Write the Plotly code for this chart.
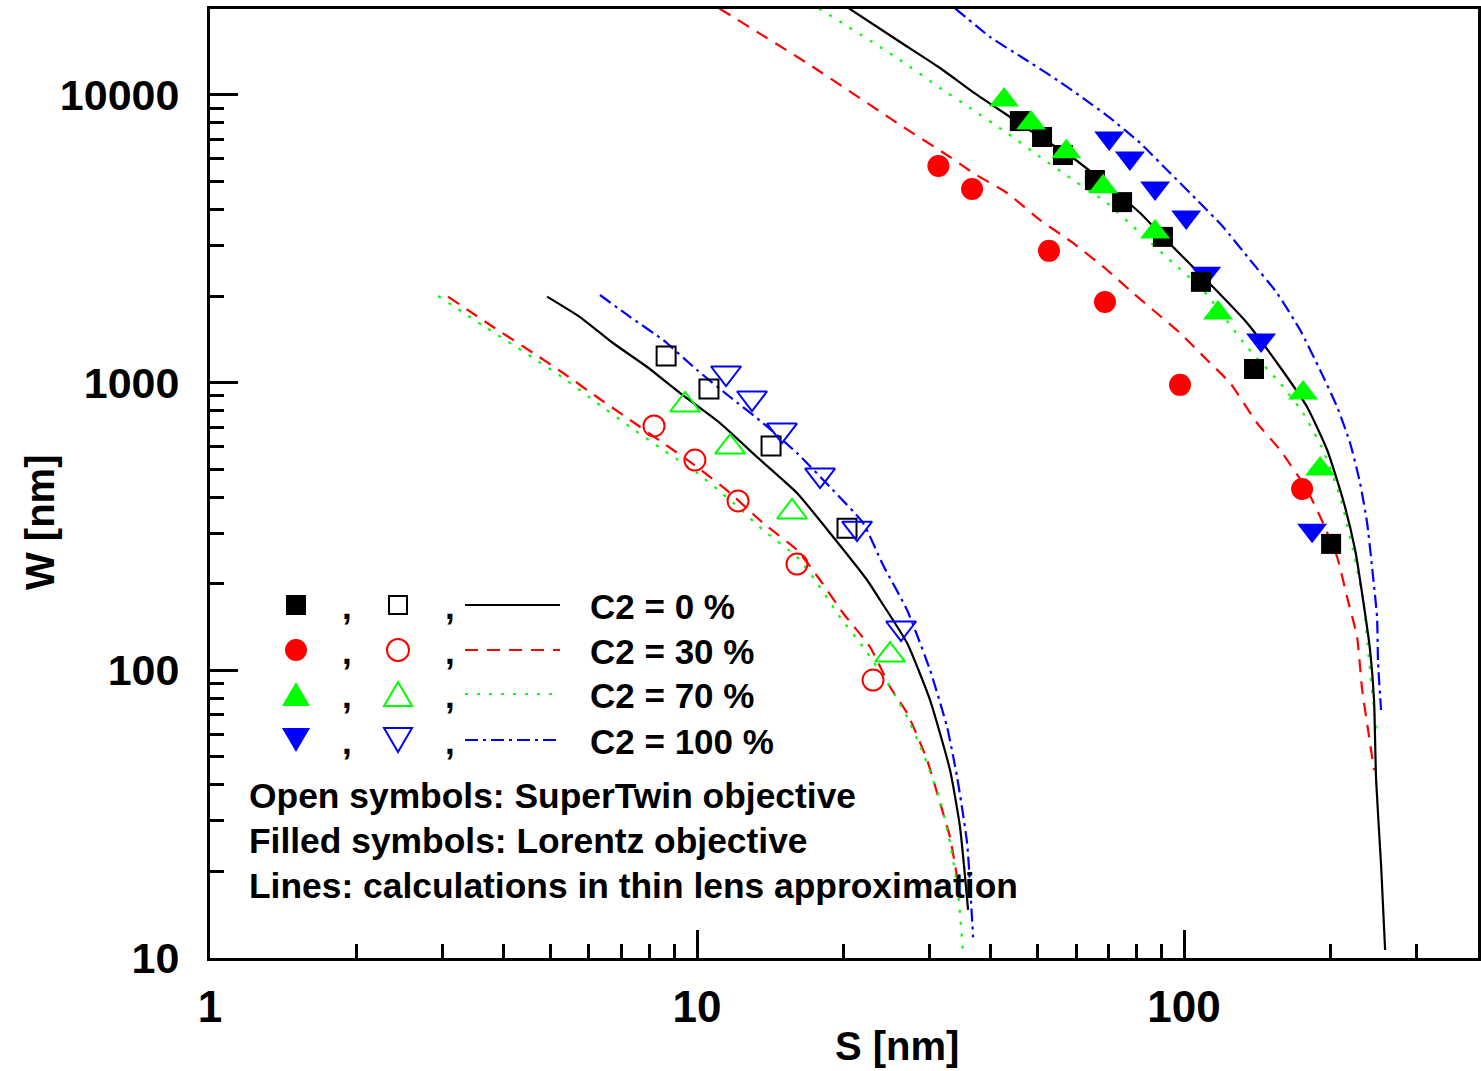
import plotly.graph_objects as go

# ---------------- data (S [nm], W [nm]) ----------------
# Lorentz objective: filled symbols
S_lor_c0 = [46.0, 51.1, 56.4, 65.6, 74.6, 90.5, 108.3, 139.2, 200.4]
W_lor_c0 = [8110, 7140, 6180, 5060, 4240, 3210, 2240, 1115, 275]
S_lor_c30 = [31.3, 36.7, 52.8, 68.8, 98.1, 174.7]
W_lor_c30 = [5660, 4710, 2870, 1905, 982, 427]
S_lor_c70 = [42.7, 48.5, 57.3, 68.2, 87.2, 117.4, 175.5, 190.2]
W_lor_c70 = [9600, 7980, 6340, 4790, 3340, 1746, 920, 501]
S_lor_c100 = [70.2, 77.4, 87.2, 101.0, 111.0, 143.9, 183.2]
W_lor_c100 = [7080, 6040, 4750, 3760, 2400, 1406, 307]

# SuperTwin objective: open symbols
S_st_c0 = [8.64, 10.58, 14.19, 20.32]
W_st_c0 = [1237, 950, 602, 312]
S_st_c30 = [8.16, 9.90, 12.14, 16.04, 22.98]
W_st_c30 = [707, 538, 388, 234, 92.5]
S_st_c70 = [9.45, 11.69, 15.67, 24.9]
W_st_c70 = [836, 597, 355, 113]
S_st_c100 = [11.47, 12.97, 14.94, 17.89, 21.31, 26.24]
W_st_c100 = [1080, 884, 684, 477, 312, 140.3]

# thin lens calculations, Lorentz objective
S_calc_lor_c0 = [20.5, 26.12, 31.55, 36.88, 43.31, 50.62, 59.17, 69.50, 81.22, 94.93, 114.7, 134.7,
                 157.4, 178.9, 196.7, 212.1, 224.5, 233.1, 240.9, 245.5, 247.9, 253.8, 258.7]
W_calc_lor_c0 = [20000, 15270, 12400, 10230, 8514, 7140, 6036, 4863, 3886, 2960, 2149, 1612,
                 1133, 822.8, 583.2, 390.8, 261.9, 175.5, 117.7, 78.8, 41.6, 21.05, 10.66]
S_calc_lor_c30 = [11.1, 17.06, 26.12, 33.07, 36.88, 43.31, 50.62, 59.17, 69.50, 78.57, 98.1, 111.5,
                  124.3, 141.2, 157.4, 178.9, 192.9, 206.2, 216.1, 226.6, 232.1, 238.7, 245.5]
W_calc_lor_c30 = [20000, 12700, 7860, 6085, 5352, 4560, 3674, 3057, 2463, 2048, 1487, 1198,
                  996.7, 723.6, 583.2, 423.3, 325.1, 247.7, 179.8, 130.5, 85.4, 62.0, 45.0]
S_calc_lor_c70 = [17.8, 26.12, 31.55, 36.36, 43.31, 50.62, 59.17, 69.50, 81.22, 94.93, 109.4, 134.7,
                  157.4, 175.5, 192.9, 209.1, 222.3, 233.1, 238.7, 244.3, 247.9]
W_calc_lor_c70 = [20000, 13220, 10570, 9006, 7373, 6085, 5060, 4210, 3311, 2604, 2098, 1329,
                  996.7, 784.1, 583.2, 400.3, 261.9, 175.5, 117.7, 78.8, 62.0]
S_calc_lor_c100 = [33.87, 39.96, 46.7, 54.85, 62.02, 70.47, 81.22, 93.6, 106.3, 120.3, 136.6, 155.2,
                   173.1, 190.2, 206.2, 219.2, 229.8, 237.6, 243.2, 249.0, 250.2, 253.8]
W_calc_lor_c100 = [20000, 15900, 13440, 11270, 9754, 8313, 6805, 5352, 4312, 3474, 2668, 2048,
                   1523, 1106, 822.8, 616.8, 447.7, 325.1, 228.6, 153.2, 106.0, 72.8]

# thin lens calculations, SuperTwin objective
S_calc_st_c0 = [4.92, 5.75, 6.72, 7.90, 9.23, 11.15, 13.28, 16.04, 18.75, 22.34, 23.76, 26.99,
                30.09, 33.07, 34.67, 36.02]
W_calc_st_c0 = [1990, 1690, 1373, 1133, 920.0, 723.6, 551.2, 413.3, 300.1, 206.0, 175.5, 124.4,
                78.8, 45.0, 28.53, 14.69]
S_calc_st_c30 = [3.08, 3.76, 4.61, 5.31, 6.23, 7.29, 8.52, 10.0, 11.69, 13.66, 16.04, 17.89, 19.94,
                 22.66, 24.91, 26.99, 29.67, 31.55, 33.07, 34.19]
W_calc_st_c30 = [1990, 1586, 1267, 1080, 891.2, 741.3, 616.8, 508.8, 413.3, 325.1, 261.9, 206.0, 158.2,
                 120.5, 87.5, 71.1, 48.8, 34.6, 26.3, 19.1]
S_calc_st_c70 = [2.94, 3.67, 4.61, 5.31, 6.23, 7.29, 8.52, 10.0, 11.69, 13.66, 16.04, 17.47, 19.66,
                 21.92, 24.91, 26.99, 29.11, 31.55, 33.07, 34.35, 35.17]
W_calc_st_c70 = [2000, 1561, 1218, 1038, 849.4, 701.0, 583.2, 485.2, 390.8, 307.4, 247.7, 206.0, 153.2,
                 120.5, 87.5, 68.8, 51.6, 35.4, 25.1, 16.8, 10.4]
S_calc_st_c100 = [6.32, 7.29, 8.52, 10.0, 11.69, 13.66, 16.04, 18.75, 21.92, 24.09, 26.99, 30.09,
                  32.61, 34.19, 35.85, 36.88]
W_calc_st_c100 = [2016, 1690, 1406, 1106, 891.2, 723.6, 569.1, 433.6, 325.1, 232.3, 162.0, 100.2,
                  63.5, 42.6, 25.1, 11.8]

x_tickvals = [1, 10, 100]
x_ticktext = ["1", "10", "100"]
y_tickvals = [10, 100, 1000, 10000]
y_ticktext = ["10", "100", "1000", "10000"]
legend_labels = ["C2 = 0 %", "C2 = 30 %", "C2 = 70 %", "C2 = 100 %"]
note_lines = ["Open symbols: SuperTwin objective",
              "Filled symbols: Lorentz objective",
              "Lines: calculations in thin lens approximation"]

# ---------------- styles / geometry ----------------
BLACK, RED, GREEN, BLUE = "#000000", "#FF0000", "#00FF00", "#0000FF"
DASH_C0 = "solid"
DASH_C30 = "13px,9px"
DASH_C70 = "3px,9px"
DASH_C100 = "13px,5px,3px,5px"

FIG_W, FIG_H = 1481, 1071
ML, MR, MT, MB = 210, 3, 9, 113
PW, PH = FIG_W - ML - MR, FIG_H - MT - MB


def xp(px):
    """page pixel -> paper fraction"""
    return (px - ML) / PW


def yp(py):
    return (FIG_H - MB - py) / PH


BOLD = dict(family="Liberation Sans, Arial, sans-serif", weight="bold", color="black")

fig = go.Figure()


def line(S, W, color, dash):
    fig.add_trace(go.Scatter(x=S, y=W, mode="lines",
                             line=dict(color=color, width=2.2, dash=dash, shape="spline", smoothing=0.5),
                             showlegend=False, hoverinfo="skip"))


def pts(S, W, color, symbol, size, open_=False):
    if open_:
        m = dict(symbol=symbol + "-open", size=size, color=color, line=dict(color=color, width=2))
    else:
        m = dict(symbol=symbol, size=size, color=color, line=dict(width=0))
    fig.add_trace(go.Scatter(x=S, y=W, mode="markers", marker=m, showlegend=False))


line(S_calc_lor_c30, W_calc_lor_c30, RED, DASH_C30)
line(S_calc_lor_c70, W_calc_lor_c70, GREEN, DASH_C70)
line(S_calc_lor_c100, W_calc_lor_c100, BLUE, DASH_C100)
line(S_calc_lor_c0, W_calc_lor_c0, BLACK, DASH_C0)
line(S_calc_st_c30, W_calc_st_c30, RED, DASH_C30)
line(S_calc_st_c70, W_calc_st_c70, GREEN, DASH_C70)
line(S_calc_st_c100, W_calc_st_c100, BLUE, DASH_C100)
line(S_calc_st_c0, W_calc_st_c0, BLACK, DASH_C0)

pts(S_lor_c30, W_lor_c30, RED, "circle", 22)
pts(S_lor_c100, W_lor_c100, BLUE, "triangle-down", 26)
pts(S_lor_c0, W_lor_c0, BLACK, "square", 20)
pts(S_lor_c70, W_lor_c70, GREEN, "triangle-up", 26)

pts(S_st_c0, W_st_c0, BLACK, "square", 19, True)
pts(S_st_c30, W_st_c30, RED, "circle", 21, True)
pts(S_st_c70, W_st_c70, GREEN, "triangle-up", 26, True)
pts(S_st_c100, W_st_c100, BLUE, "triangle-down", 26, True)

# ---------------- legend (drawn as layout decorations) ----------------
shapes = []
annotations = []
row_y = [605, 650, 694, 740]
colors = [BLACK, RED, GREEN, BLUE]
dashes = [DASH_C0, DASH_C30, DASH_C70, DASH_C100]
kinds = ["square", "circle", "up", "down"]


def symbol_shape(kind, cx, cy, color, filled):
    fill = color if filled else "rgba(0,0,0,0)"
    lw = 0 if filled else 2
    if kind == "square":
        h = 10 if filled else 9
        return dict(type="rect", xref="paper", yref="paper", x0=xp(cx - h), x1=xp(cx + h),
                    y0=yp(cy + h), y1=yp(cy - h), fillcolor=fill, line=dict(color=color, width=lw))
    if kind == "circle":
        r = 11
        return dict(type="circle", xref="paper", yref="paper", x0=xp(cx - r), x1=xp(cx + r),
                    y0=yp(cy + r), y1=yp(cy - r), fillcolor=fill, line=dict(color=color, width=lw))
    hw, hh = 14, 12
    if kind == "up":
        p = [(cx - hw, cy + hh), (cx + hw, cy + hh), (cx, cy - hh)]
    else:
        p = [(cx - hw, cy - hh), (cx + hw, cy - hh), (cx, cy + hh)]
    path = "M {},{} L {},{} L {},{} Z".format(xp(p[0][0]), yp(p[0][1]), xp(p[1][0]), yp(p[1][1]),
                                              xp(p[2][0]), yp(p[2][1]))
    return dict(type="path", xref="paper", yref="paper", path=path, fillcolor=fill,
                line=dict(color=color, width=lw))


for i in range(4):
    cy = row_y[i]
    shapes.append(symbol_shape(kinds[i], 296, cy, colors[i], True))
    shapes.append(symbol_shape(kinds[i], 398, cy, colors[i], False))
    end = 553 if i == 2 else 560
    shapes.append(dict(type="line", xref="paper", yref="paper", x0=xp(465), x1=xp(end),
                       y0=yp(cy), y1=yp(cy), line=dict(color=colors[i], width=2.2, dash=dashes[i])))
    for cx in (347, 450):
        annotations.append(dict(text=",", xref="paper", yref="paper", x=xp(cx), y=yp(cy + 1),
                                xanchor="center", yanchor="middle", showarrow=False,
                                font=dict(size=35, **BOLD)))
    annotations.append(dict(text=legend_labels[i], xref="paper", yref="paper", x=xp(588), y=yp(cy + 1),
                            xanchor="left", yanchor="middle", showarrow=False,
                            font=dict(size=35, **BOLD)))

for j, t in enumerate(note_lines):
    annotations.append(dict(text=t, xref="paper", yref="paper", x=xp(247), y=yp(796 + 45 * j),
                            xanchor="left", yanchor="middle", showarrow=False,
                            font=dict(size=35.4, **BOLD)))

# axis titles
annotations.append(dict(text="S [nm]", xref="paper", yref="paper", x=xp(897), y=yp(1046),
                        xanchor="center", yanchor="middle", showarrow=False, font=dict(size=40, **BOLD)))
annotations.append(dict(text="W [nm]", xref="paper", yref="paper", x=xp(40), y=yp(522),
                        xanchor="center", yanchor="middle", textangle=-90, showarrow=False,
                        font=dict(size=40, **BOLD)))

axis_common = dict(type="log", showgrid=False, zeroline=False, showline=True, linecolor="black",
                   linewidth=3, mirror=True, ticks="inside", ticklen=28, tickwidth=3, tickcolor="black",
                   minor=dict(ticks="inside", ticklen=14, tickwidth=3, tickcolor="black", dtick="D1",
                              showgrid=False))

fig.update_layout(
    width=FIG_W, height=FIG_H,
    margin=dict(l=ML, r=MR, t=MT, b=MB, autoexpand=False),
    paper_bgcolor="white", plot_bgcolor="white",
    showlegend=False,
    xaxis=dict(range=[0, 2.6035], tickvals=x_tickvals, ticktext=x_ticktext,
               tickfont=dict(size=44, **BOLD), ticklabelstandoff=8, **axis_common),
    yaxis=dict(range=[1, 4.2986], tickvals=y_tickvals, ticktext=y_ticktext,
               tickfont=dict(size=43, **BOLD), ticklabelstandoff=19, **axis_common),
    shapes=shapes,
    annotations=annotations,
)

# remove the browser's default page margin so the figure fills the window exactly
fig.write_html("out.html",
               config={"displayModeBar": False},
               post_script="document.body.style.margin='0';document.body.style.overflow='hidden';")
